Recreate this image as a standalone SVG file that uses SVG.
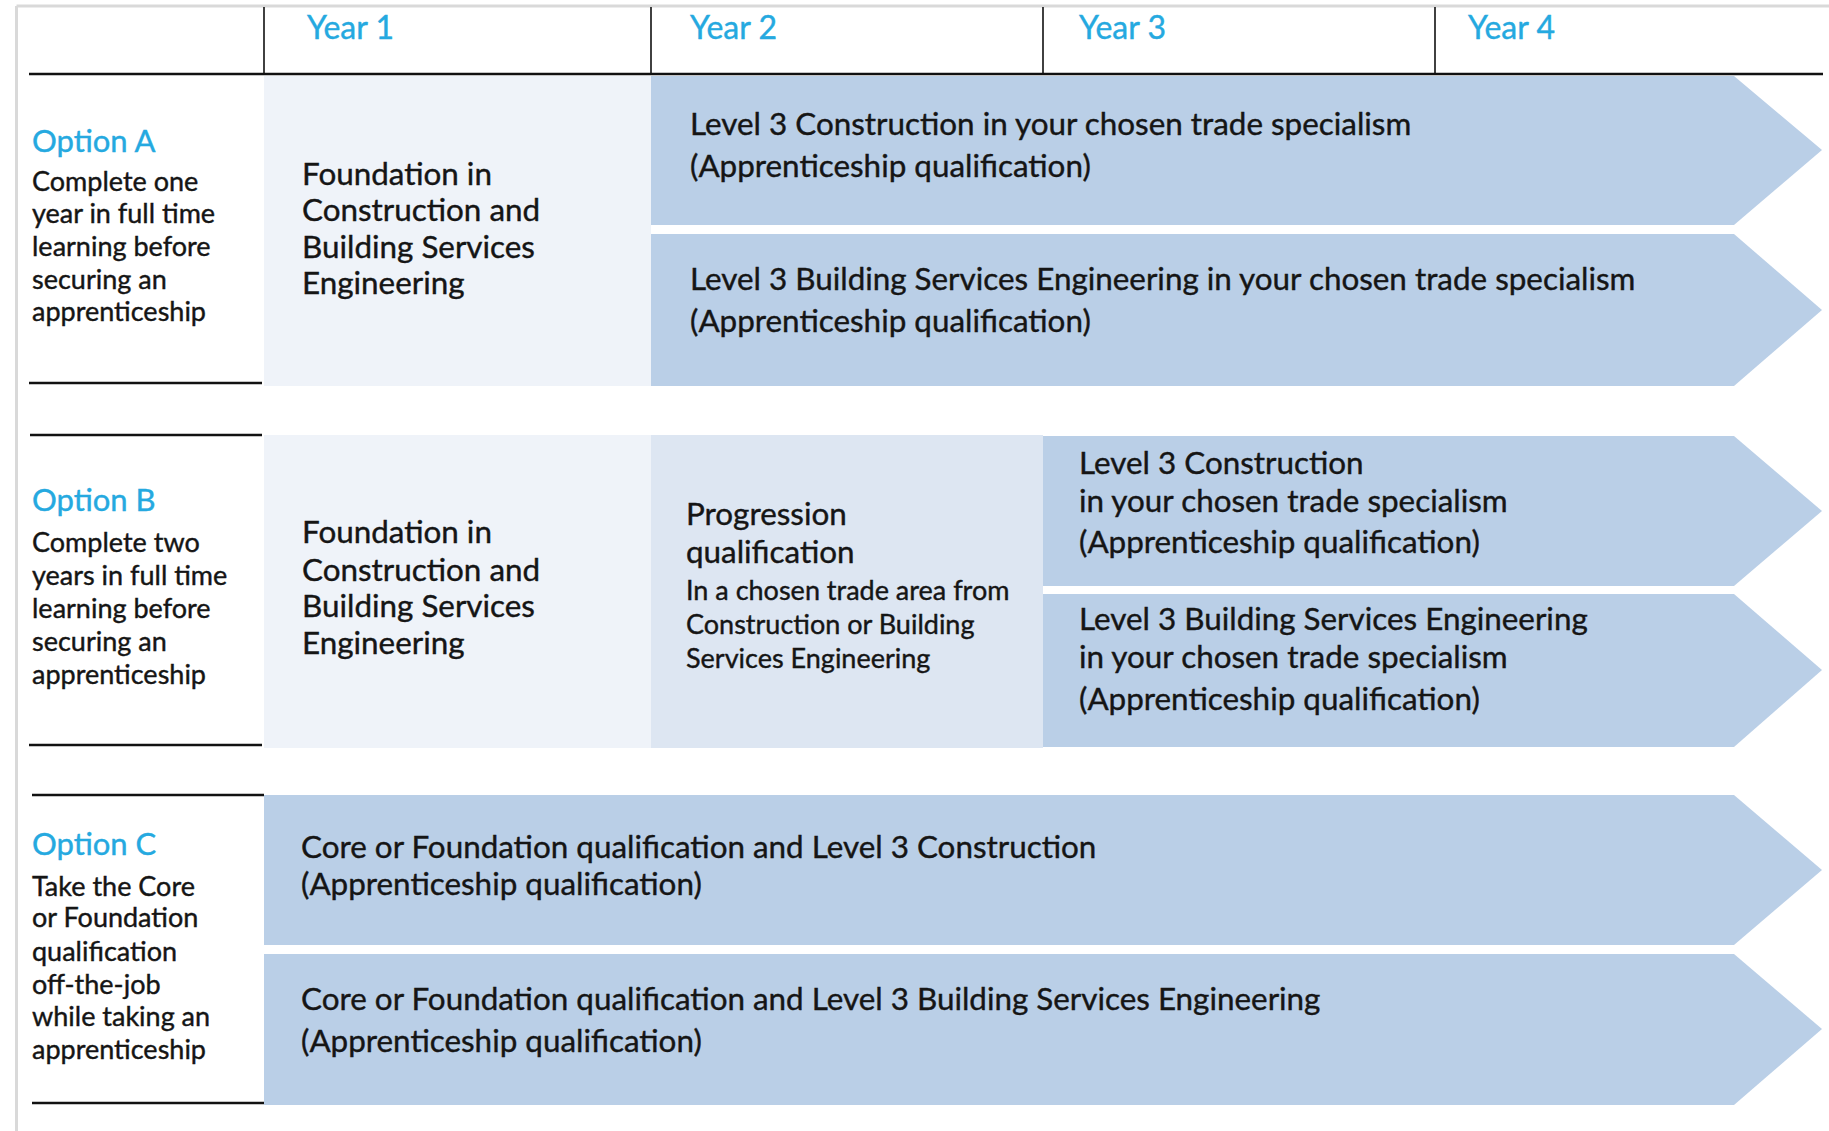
<svg xmlns="http://www.w3.org/2000/svg" width="1829" height="1131" viewBox="0 0 1829 1131">
<style>
  text { font-family: Lato, "Open Sans", "Liberation Sans", sans-serif; fill: #151515; stroke: #151515; stroke-width: 0.4; }
  .yr { fill: #25a9e0; stroke: #25a9e0; font-size: 32px; }
  .opt { fill: #25a9e0; stroke: #25a9e0; font-size: 31px; }
  .desc { font-size: 27px; }
  .main { font-size: 31.4px; }
  .small { font-size: 27px; }
  .arrow { fill: #bacfe7; }
  .light { fill: #eff3f9; }
  .mid { fill: #dde6f2; }
  .rule { stroke: #111; stroke-width: 2.5; fill: none; }
  .vrule { stroke: #111; stroke-width: 1.6; fill: none; }
  .frame { stroke: #d9d9d9; stroke-width: 3; fill: none; }
</style>
<rect width="1829" height="1131" fill="#fff"/>
<g id="frame">
  <line class="frame" x1="16.5" y1="6" x2="1829" y2="6"/>
  <line class="frame" x1="16.5" y1="6" x2="16.5" y2="1131"/>
</g>
<g id="header">
  <line class="vrule" x1="264" y1="7" x2="264" y2="74"/>
  <line class="vrule" x1="651" y1="7" x2="651" y2="74"/>
  <line class="vrule" x1="1043" y1="7" x2="1043" y2="74"/>
  <line class="vrule" x1="1435" y1="7" x2="1435" y2="74"/>
  <line class="rule" x1="29" y1="74" x2="1823" y2="74"/>
  <text class="yr" x="307" y="39">Year 1</text>
  <text class="yr" x="690" y="39">Year 2</text>
  <text class="yr" x="1079" y="39">Year 3</text>
  <text class="yr" x="1468" y="39">Year 4</text>
</g>
<g id="connectors">
  <line class="rule" x1="29" y1="383" x2="262" y2="383"/>
  <line class="rule" x1="30" y1="435" x2="262" y2="435"/>
  <line class="rule" x1="29" y1="745" x2="262" y2="745"/>
  <line class="rule" x1="32" y1="795" x2="264" y2="795"/>
  <line class="rule" x1="32" y1="1103" x2="264" y2="1103"/>
</g>
<g id="optionA-label">
  <text class="opt" x="32" y="152">Option A</text>
  <text class="desc" x="32" y="191">Complete one</text>
  <text class="desc" x="32" y="223">year in full time</text>
  <text class="desc" x="32" y="256">learning before</text>
  <text class="desc" x="32" y="289">securing an</text>
  <text class="desc" x="32" y="321">apprenticeship</text>
</g>
<g id="optionA-year1">
  <rect class="light" x="264" y="76" width="387" height="310"/>
  <text class="main" x="302" y="185">Foundation in</text>
  <text class="main" x="302" y="221">Construction and</text>
  <text class="main" x="302" y="258">Building Services</text>
  <text class="main" x="302" y="294">Engineering</text>
</g>
<g id="optionA-construction">
  <polygon class="arrow" points="651,76 1734,76 1822,150 1734,225 651,225"/>
  <text class="main" x="690" y="135">Level 3 Construction in your chosen trade specialism</text>
  <text class="main" x="690" y="177">(Apprenticeship qualification)</text>
</g>
<g id="optionA-bse">
  <polygon class="arrow" points="651,234 1734,234 1822,310 1734,386 651,386"/>
  <text class="main" x="690" y="290">Level 3 Building Services Engineering in your chosen trade specialism</text>
  <text class="main" x="690" y="332">(Apprenticeship qualification)</text>
</g>
<g id="optionB-label">
  <text class="opt" x="32" y="511">Option B</text>
  <text class="desc" x="32" y="552">Complete two</text>
  <text class="desc" x="32" y="585">years in full time</text>
  <text class="desc" x="32" y="618">learning before</text>
  <text class="desc" x="32" y="651">securing an</text>
  <text class="desc" x="32" y="684">apprenticeship</text>
</g>
<g id="optionB-year1">
  <rect class="light" x="264" y="435" width="387" height="313"/>
  <text class="main" x="302" y="543">Foundation in</text>
  <text class="main" x="302" y="581">Construction and</text>
  <text class="main" x="302" y="617">Building Services</text>
  <text class="main" x="302" y="654">Engineering</text>
</g>
<g id="optionB-progression">
  <rect class="mid" x="651" y="435" width="392" height="313"/>
  <text class="main" x="686" y="525">Progression</text>
  <text class="main" x="686" y="563">qualification</text>
  <text class="small" x="686" y="600">In a chosen trade area from</text>
  <text class="small" x="686" y="634">Construction or Building</text>
  <text class="small" x="686" y="668">Services Engineering</text>
</g>
<g id="optionB-construction">
  <polygon class="arrow" points="1043,436 1734,436 1822,511 1734,586 1043,586"/>
  <text class="main" x="1079" y="474">Level 3 Construction</text>
  <text class="main" x="1079" y="512">in your chosen trade specialism</text>
  <text class="main" x="1079" y="553">(Apprenticeship qualification)</text>
</g>
<g id="optionB-bse">
  <polygon class="arrow" points="1043,594 1734,594 1822,670 1734,747 1043,747"/>
  <text class="main" x="1079" y="630">Level 3 Building Services Engineering</text>
  <text class="main" x="1079" y="668">in your chosen trade specialism</text>
  <text class="main" x="1079" y="710">(Apprenticeship qualification)</text>
</g>
<g id="optionC-label">
  <text class="opt" x="32" y="855">Option C</text>
  <text class="desc" x="32" y="896">Take the Core</text>
  <text class="desc" x="32" y="927">or Foundation</text>
  <text class="desc" x="32" y="961">qualification</text>
  <text class="desc" x="32" y="994">off-the-job</text>
  <text class="desc" x="32" y="1026">while taking an</text>
  <text class="desc" x="32" y="1059">apprenticeship</text>
</g>
<g id="optionC-construction">
  <polygon class="arrow" points="264,795 1734,795 1822,870 1734,945 264,945"/>
  <text class="main" x="301" y="858">Core or Foundation qualification and Level 3 Construction</text>
  <text class="main" x="301" y="895">(Apprenticeship qualification)</text>
</g>
<g id="optionC-bse">
  <polygon class="arrow" points="264,954 1734,954 1822,1029 1734,1105 264,1105"/>
  <text class="main" x="301" y="1010">Core or Foundation qualification and Level 3 Building Services Engineering</text>
  <text class="main" x="301" y="1052">(Apprenticeship qualification)</text>
</g>
</svg>
